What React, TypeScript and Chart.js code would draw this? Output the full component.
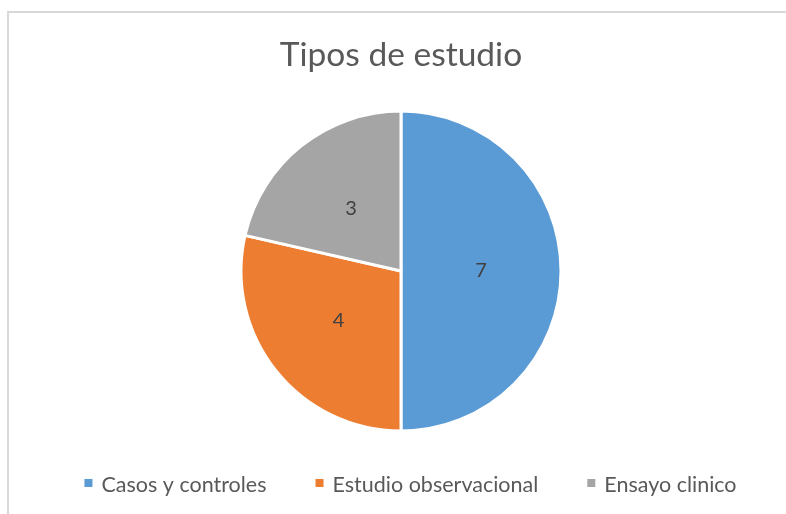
import React, { useEffect, useRef } from "react";
import { Chart, registerables } from "chart.js";

Chart.register(...registerables);

const title = "Tipos de estudio";
const categories = ["Casos y controles", "Estudio observacional", "Ensayo clinico"];
const values = [7, 4, 3];
const colors = ["#5B9BD5", "#ED7D31", "#A5A5A5"];

const FONT = "Lato, 'Open Sans', sans-serif";

const decorPlugin = {
  id: "decor",
  afterDatasetsDraw(chart: any) {
    const ctx = chart.ctx as CanvasRenderingContext2D;
    const meta = chart.getDatasetMeta(0);
    ctx.save();
    ctx.fillStyle = "#404040";
    ctx.font = `20px ${FONT}`;
    ctx.textAlign = "center";
    ctx.textBaseline = "middle";
    meta.data.forEach((arc: any, i: number) => {
      const p = arc.tooltipPosition();
      ctx.fillText(String(chart.data.datasets[0].data[i]), p.x, p.y);
    });
    ctx.restore();
  },
  afterDraw(chart: any) {
    const ctx = chart.ctx as CanvasRenderingContext2D;
    ctx.save();
    // title
    ctx.fillStyle = "#595959";
    ctx.font = `33.5px ${FONT}`;
    ctx.textAlign = "center";
    ctx.textBaseline = "alphabetic";
    ctx.fillText(title, 401, 66);
    // legend
    ctx.font = `21.5px ${FONT}`;
    ctx.textAlign = "left";
    const labels: string[] = chart.data.labels;
    const gap = 9;
    const box = 8;
    const spacing = 49;
    const widths = labels.map((l) => ctx.measureText(l).width);
    const total = widths.reduce((a, w) => a + box + gap + w, 0) + spacing * (labels.length - 1);
    let x = 410.5 - total / 2;
    labels.forEach((l, i) => {
      ctx.fillStyle = colors[i];
      ctx.fillRect(x, 479, box, box);
      ctx.fillStyle = "#595959";
      ctx.fillText(l, x + box + gap, 492);
      x += box + gap + widths[i] + spacing;
    });
    ctx.restore();
  },
};

export default function App() {
  const ref = useRef<HTMLCanvasElement>(null);
  useEffect(() => {
    document.body.style.margin = "0";
    document.body.style.overflow = "hidden";
    const chart = new Chart(ref.current as HTMLCanvasElement, {
      type: "pie",
      data: {
        labels: categories,
        datasets: [
          {
            data: values,
            backgroundColor: colors,
            borderColor: "#ffffff",
            borderWidth: 3,
          },
        ],
      },
      options: {
        responsive: false,
        animation: false,
        radius: 160,
        layout: { padding: { top: 111, bottom: 83, left: 16, right: 0 } },
        plugins: {
          legend: { display: false },
          title: { display: false },
          tooltip: { enabled: false },
        },
      } as any,
      plugins: [decorPlugin],
    });
    return () => chart.destroy();
  }, []);
  return (
    <div style={{ position: "fixed", left: 0, top: 0, width: 786, height: 514, background: "#fff", overflow: "hidden" }}>
      <div
        style={{
          position: "absolute",
          left: 7,
          top: 11,
          width: 900,
          height: 700,
          border: "2px solid #d9d9d9",
        }}
      />
      <canvas ref={ref} width={786} height={514} style={{ position: "absolute", left: 0, top: 0 }} />
    </div>
  );
}
